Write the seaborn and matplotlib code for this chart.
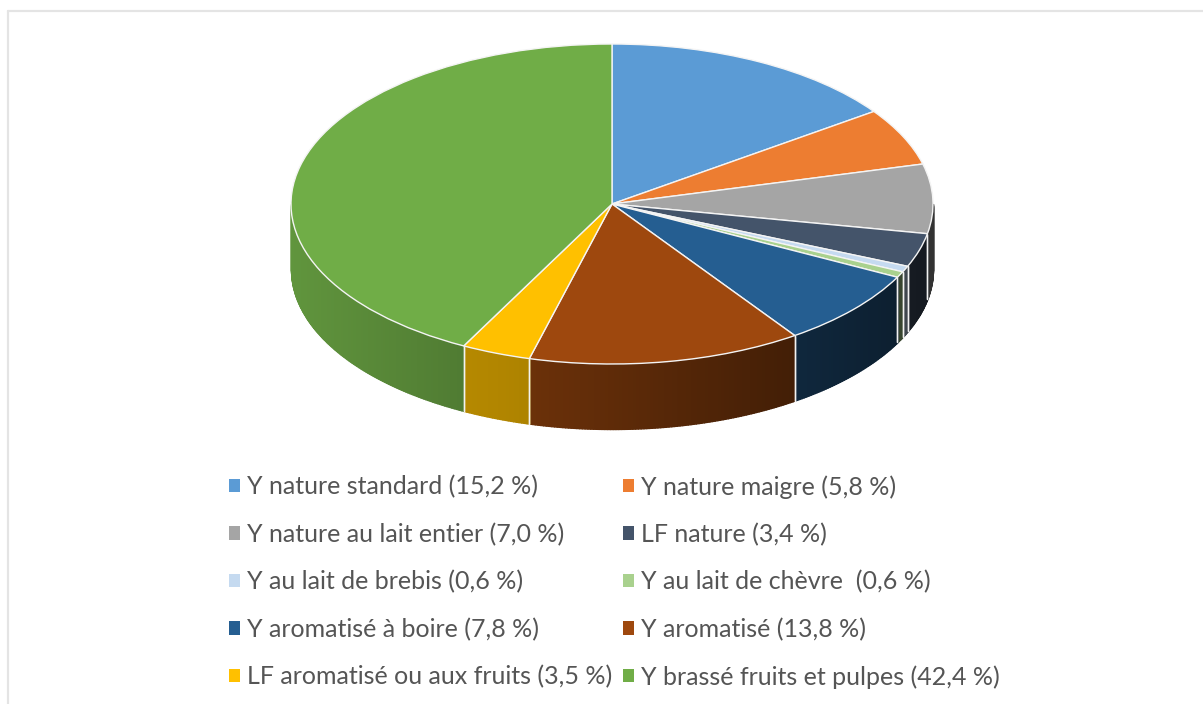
#!/usr/bin/env python3
# -*- coding: utf-8 -*-

import numpy as np
import matplotlib as mpl
mpl.use('Agg')
import matplotlib.pyplot as plt
from matplotlib.lines import Line2D
from matplotlib.patches import Patch
import seaborn as sns

labels = ['Y nature standard (15,2 %)', 'Y nature maigre (5,8 %)',
          'Y nature au lait entier (7,0 %)', 'LF nature (3,4 %)',
          'Y au lait de brebis (0,6 %)', 'Y au lait de chèvre  (0,6 %)',
          'Y aromatisé à boire (7,8 %)', 'Y aromatisé (13,8 %)',
          'LF aromatisé ou aux fruits (3,5 %)', 'Y brassé fruits et pulpes (42,4 %)']
values = [15.2, 5.8, 7.0, 3.4, 0.6, 0.6, 7.8, 13.8, 3.5, 42.4]
colors = ['#5B9BD5', '#ED7D31', '#A5A5A5', '#44546A', '#C5DAF0',
          '#A9D18E', '#255E91', '#9E480E', '#FFC000', '#70AD47']

W, H = 1203, 704
CX, CY, RX, RY, DEPTH = 612, 204, 321, 160, 65

sns.set_theme(style='white')
plt.rcParams['font.family'] = ['Lato', 'DejaVu Sans']
palette = sns.color_palette(colors)

fig = plt.figure(figsize=(W / 100, H / 100), dpi=100, facecolor='white')
ax = fig.add_axes([0, 0, 1, 1])

# side wall of the pie, darker towards the right
fracs = np.array(values) / np.sum(values)
edges = 90 - 360 * np.concatenate([[0], np.cumsum(fracs)])
d = DEPTH / RY
for i in range(len(values)):
    a0 = ((edges[i] + 180) % 360) - 180
    a1 = a0 - (edges[i] - edges[i + 1])
    lo, hi = max(a1, -180), min(a0, 0)
    if lo >= hi:
        continue
    ang = np.radians(np.linspace(hi, lo, max(2, int((hi - lo) * 2) + 1)))
    for t0, t1 in zip(ang[:-1], ang[1:]):
        xs = np.cos([t0, t1])
        ys = np.sin([t0, t1])
        s = np.interp(xs.mean(), [-1, -0.45, -0.26, 0.57, 1], [0.86, 0.71, 0.68, 0.42, 0.3])
        col = tuple(c * s for c in palette[i])
        ax.fill_between(xs, ys - d, ys, facecolor=col, edgecolor=col, lw=1.0, zorder=1)
    # white-ish line at slice boundaries
    for t in (ang[0], ang[-1]):
        if -np.pi < t < 0:
            ax.plot([np.cos(t)] * 2, [np.sin(t) - d, np.sin(t)], color='#f2f2f2', lw=1, zorder=2)

wedges, _ = ax.pie(values, colors=palette, startangle=90, counterclock=False, radius=1,
                   wedgeprops={'edgecolor': '#f4f4f4', 'linewidth': 1})
for w in wedges:
    w.set_zorder(3)

ax.set_aspect('auto')
ax.set_xlim((0 - CX) / RX, (W - CX) / RX)
ax.set_ylim((CY - H) / RY, CY / RY)
ax.axis('off')

# legend is filled by column, so rows are rebuilt from the two columns
order = [0, 2, 4, 6, 8, 1, 3, 5, 7, 9]
handles = [Patch(facecolor=palette[i], edgecolor='none', label=labels[i]) for i in order]
leg = fig.legend(handles=handles, ncols=2, frameon=False, fontsize=18,
                 labelcolor='#555555', handlelength=0.44, handleheight=0.44,
                 handletextpad=0.3, columnspacing=0.4, labelspacing=0.965,
                 loc='upper left', bbox_to_anchor=(229 / W, 1 - 475 / H),
                 borderaxespad=0, borderpad=0)

# chart frame, only top and left are in the crop
fig.add_artist(Line2D([8 / W, 1], [1 - 10.5 / H] * 2, color='#e4e4e4', lw=1.6))
fig.add_artist(Line2D([8 / W] * 2, [0, 1 - 10.5 / H], color='#e4e4e4', lw=1.6))

fig.savefig('out.png', dpi=100)
